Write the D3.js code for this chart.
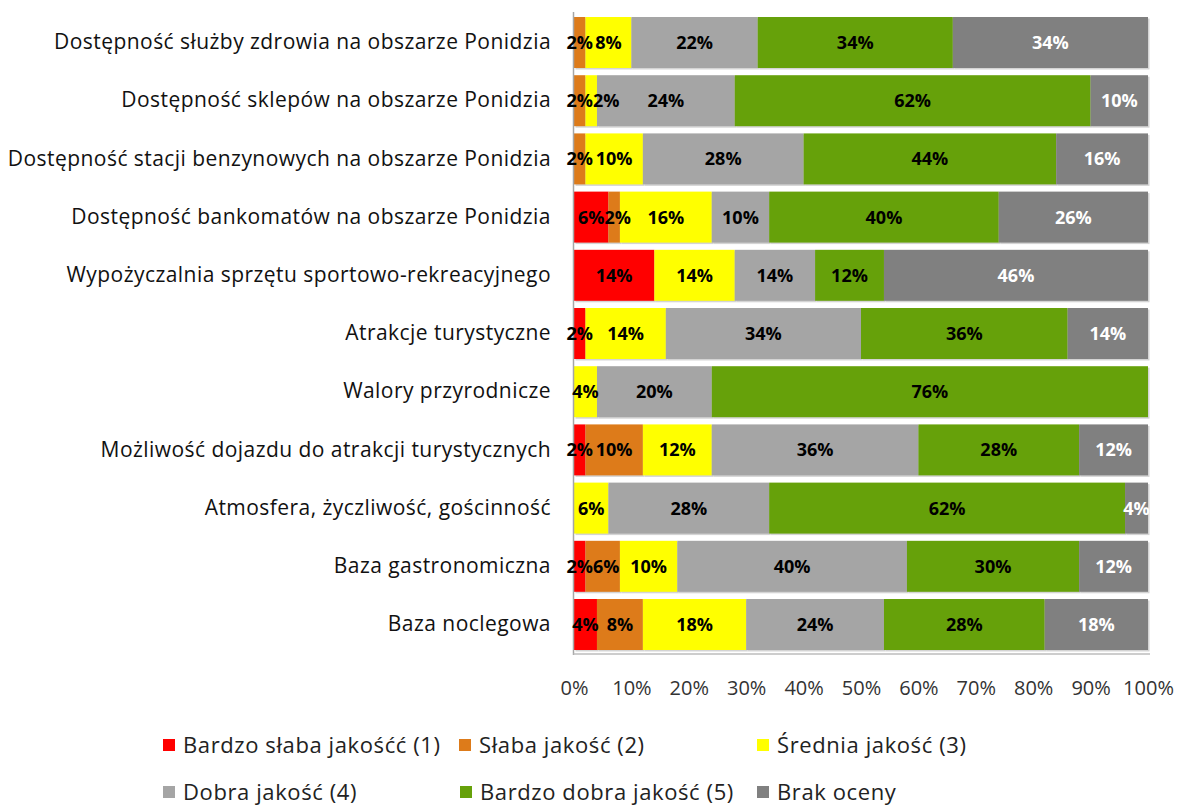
<!DOCTYPE html>
<html>
<head>
<meta charset="utf-8">
<script src="https://cdn.jsdelivr.net/npm/d3@7"></script>
<style>
  html, body { margin: 0; padding: 0; background: #fff; }
  svg { display: block; }
  text { font-family: "Open Sans", Lato, sans-serif; }
</style>
</head>
<body>
<svg id="chart" width="1178" height="806"></svg>
<script>
// Survey categories (top to bottom)
const categories = [
  "Dostępność służby zdrowia na obszarze Ponidzia",
  "Dostępność sklepów na obszarze Ponidzia",
  "Dostępność stacji benzynowych na obszarze Ponidzia",
  "Dostępność bankomatów na obszarze Ponidzia",
  "Wypożyczalnia sprzętu sportowo-rekreacyjnego",
  "Atrakcje turystyczne",
  "Walory przyrodnicze",
  "Możliwość dojazdu do atrakcji turystycznych",
  "Atmosfera, życzliwość, gościnność",
  "Baza gastronomiczna",
  "Baza noclegowa"
];

// Rating series names (legend order)
const seriesNames = [
  "Bardzo słaba jakośćć (1)",
  "Słaba jakość (2)",
  "Średnia jakość (3)",
  "Dobra jakość (4)",
  "Bardzo dobra jakość (5)",
  "Brak oceny"
];

// Percentages per series, one value per category
const veryPoor  = [0, 0, 0, 6, 14, 2, 0, 2, 0, 2, 4];
const poor      = [2, 2, 2, 2, 0, 0, 0, 10, 0, 6, 8];
const average   = [8, 2, 10, 16, 14, 14, 4, 12, 6, 10, 18];
const good      = [22, 24, 28, 10, 14, 34, 20, 36, 28, 40, 24];
const veryGood  = [34, 62, 44, 40, 12, 36, 76, 28, 62, 30, 28];
const noRating  = [34, 10, 16, 26, 46, 14, 0, 12, 4, 12, 18];

const tickLabels = ["0%", "10%", "20%", "30%", "40%", "50%", "60%", "70%", "80%", "90%", "100%"];

const colors = ["#ff0000", "#dd7b1a", "#ffff00", "#a5a5a5", "#66a10a", "#808080"];
const labelColors = ["#000", "#000", "#000", "#000", "#000", "#fff"];

const seriesValues = [veryPoor, poor, average, good, veryGood, noRating];

// Table for the stack layout
const keys = seriesNames;
const table = categories.map((c, i) => {
  const row = { category: c };
  keys.forEach((k, j) => { row[k] = seriesValues[j][i]; });
  return row;
});
const stacked = d3.stack().keys(keys)(table);

const svg = d3.select("#chart");

const x = d3.scaleLinear().domain([0, 100]).range([574, 1148]);
const y = d3.scaleBand().domain(categories).range([13.4, 653.6])
  .paddingInner(0.124).paddingOuter(0.062);

// Bar shadows
const shadowG = svg.append("g");
stacked.forEach((layer) => {
  shadowG.selectAll(null)
    .data(layer.filter(d => d[1] > d[0]))
    .join("rect")
    .attr("x", d => x(d[0]) + 1.5)
    .attr("y", d => y(d.data.category) + 1.5)
    .attr("width", d => x(d[1]) - x(d[0]))
    .attr("height", y.bandwidth())
    .attr("fill", "#d4d4d4");
});

// Bars
const barG = svg.append("g");
stacked.forEach((layer, j) => {
  barG.selectAll(null)
    .data(layer.filter(d => d[1] > d[0]))
    .join("rect")
    .attr("x", d => x(d[0]))
    .attr("y", d => y(d.data.category))
    .attr("width", d => x(d[1]) - x(d[0]))
    .attr("height", y.bandwidth())
    .attr("fill", colors[j]);
});

// Axis lines
svg.append("line")
  .attr("x1", x(0) - 0.5).attr("x2", x(0) - 0.5)
  .attr("y1", 12).attr("y2", 655)
  .attr("stroke", "#a6a6a6").attr("stroke-width", 1.5);
svg.append("line")
  .attr("x1", x(0) - 0.5).attr("x2", x(100) + 2)
  .attr("y1", 654).attr("y2", 654)
  .attr("stroke", "#bdbdbd").attr("stroke-width", 1.5);

// Data labels, centred on each segment; nudged right when they would collide
const labelG = svg.append("g");
categories.forEach((cat, i) => {
  let prevRight = -Infinity;
  stacked.forEach((layer, j) => {
    const d = layer[i];
    if (d[1] <= d[0]) return;
    const t = labelG.append("text")
      .attr("x", x((d[0] + d[1]) / 2))
      .attr("y", y(cat) + y.bandwidth() / 2)
      .attr("dy", "0.36em")
      .attr("text-anchor", "middle")
      .attr("font-size", 18)
      .attr("font-weight", "bold")
      .attr("fill", labelColors[j])
      .text((d[1] - d[0]) + "%");
    const w = t.node().getComputedTextLength();
    let cx = x((d[0] + d[1]) / 2);
    if (cx - w / 2 < prevRight) {
      cx = prevRight + w / 2;
      t.attr("x", cx);
    }
    prevRight = cx + w / 2;
  });
});

// Category labels
const yAxis = d3.axisLeft(y).tickSize(0).tickPadding(23);
const yG = svg.append("g").attr("transform", `translate(${x(0)},0)`).call(yAxis);
yG.select(".domain").remove();
yG.selectAll("text")
  .attr("font-size", 21)
  .attr("letter-spacing", 0.45)
  .attr("font-family", "'Open Sans', Lato, sans-serif")
  .attr("fill", "#111");

// Percentage tick labels
const xAxis = d3.axisBottom(x)
  .tickValues(d3.range(0, 101, 10))
  .tickFormat((d, i) => tickLabels[i])
  .tickSize(0).tickPadding(27);
const xG = svg.append("g").attr("transform", "translate(0,654)").call(xAxis);
xG.select(".domain").remove();
xG.selectAll("text")
  .attr("font-size", 20)
  .attr("font-family", "'Open Sans', Lato, sans-serif")
  .attr("fill", "#333");

// Legend
const legendPos = [
  [163, 745], [459, 745], [757, 745],
  [163, 792], [460, 792], [757, 792]
];
const legend = svg.append("g");
seriesNames.forEach((name, j) => {
  const [lx, ly] = legendPos[j];
  legend.append("rect")
    .attr("x", lx).attr("y", ly - 6)
    .attr("width", 12).attr("height", 12)
    .attr("fill", colors[j]);
  legend.append("text")
    .attr("x", lx + 20).attr("y", ly)
    .attr("dy", "0.36em")
    .attr("font-size", 22)
    .attr("letter-spacing", 0.6)
    .attr("fill", "#222")
    .text(name);
});
</script>
</body>
</html>
